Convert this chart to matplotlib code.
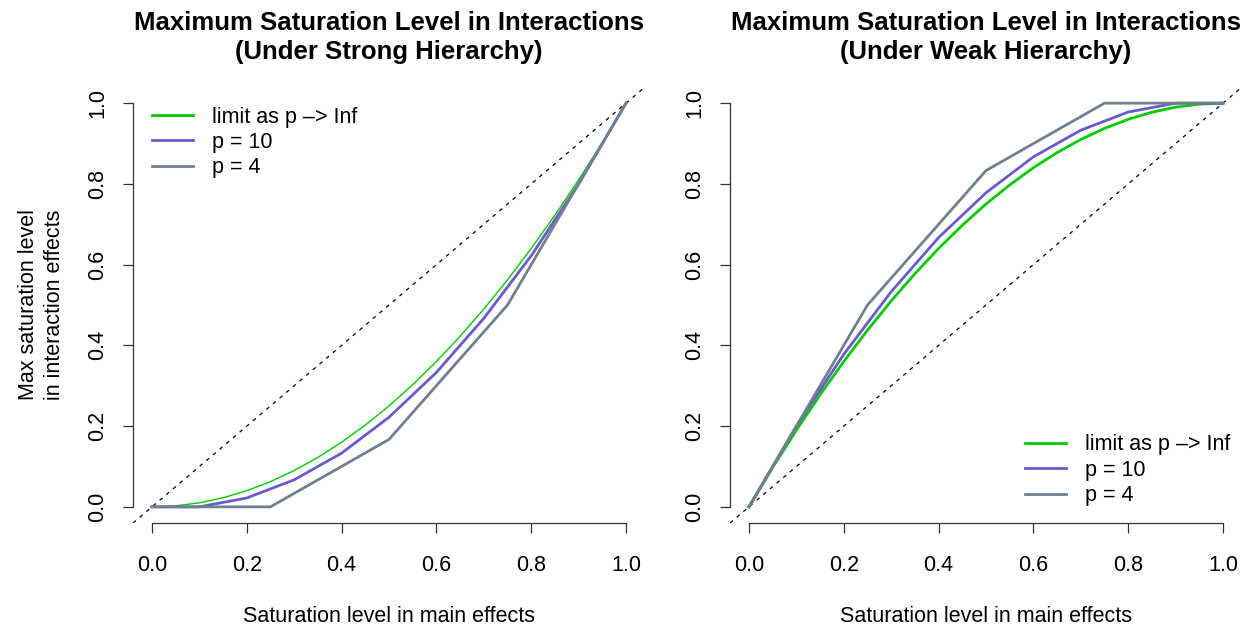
import matplotlib.pyplot as plt

plt.rcParams["font.family"] = ["Liberation Sans", "DejaVu Sans"]

# data
x_limit = [0.0, 0.05, 0.1, 0.15, 0.2, 0.25, 0.3, 0.35, 0.4, 0.45, 0.5,
           0.55, 0.6, 0.65, 0.7, 0.75, 0.8, 0.85, 0.9, 0.95, 1.0]
strong_limit = [0.0, 0.0025, 0.01, 0.0225, 0.04, 0.0625, 0.09, 0.1225, 0.16, 0.2025, 0.25,
                0.3025, 0.36, 0.4225, 0.49, 0.5625, 0.64, 0.7225, 0.81, 0.9025, 1.0]
weak_limit = [0.0, 0.0975, 0.19, 0.2775, 0.36, 0.4375, 0.51, 0.5775, 0.64, 0.6975, 0.75,
              0.7975, 0.84, 0.8775, 0.91, 0.9375, 0.96, 0.9775, 0.99, 0.9975, 1.0]

x_p10 = [0.0, 0.1, 0.2, 0.3, 0.4, 0.5, 0.6, 0.7, 0.8, 0.9, 1.0]
strong_p10 = [0.0, 0.0, 0.022, 0.067, 0.133, 0.222, 0.333, 0.467, 0.622, 0.8, 1.0]
weak_p10 = [0.0, 0.2, 0.378, 0.533, 0.667, 0.778, 0.867, 0.933, 0.978, 1.0, 1.0]

x_p4 = [0.0, 0.25, 0.5, 0.75, 1.0]
strong_p4 = [0.0, 0.0, 0.167, 0.5, 1.0]
weak_p4 = [0.0, 0.5, 0.833, 1.0, 1.0]

ticks = [0.0, 0.2, 0.4, 0.6, 0.8, 1.0]
tick_labels = ["0.0", "0.2", "0.4", "0.6", "0.8", "1.0"]
legend_labels = ["limit as p \u2013> Inf", "p = 10", "p = 4"]

GREEN = "#00CD00"
PURPLE = "#6A5ACD"
GREY = "#708090"
FS = 15.5

fig = plt.figure(figsize=(12.52, 6.3), dpi=100)
ax1 = fig.add_axes([133 / 1252, 107 / 630, 512 / 1252, 436 / 630])
ax2 = fig.add_axes([730 / 1252, 107 / 630, 512 / 1252, 436 / 630])


def style_axes(ax, title):
    ax.set_xlim(-0.04, 1.04)
    ax.set_ylim(-0.04, 1.04)
    for s in ["top", "right"]:
        ax.spines[s].set_visible(False)
    ax.spines["left"].set_bounds(0, 1)
    ax.spines["bottom"].set_bounds(0, 1)
    for s in ["left", "bottom"]:
        ax.spines[s].set_linewidth(0.9)
        ax.spines[s].set_color("#333333")
    ax.set_xticks(ticks)
    ax.set_xticklabels(tick_labels)
    ax.set_yticks(ticks)
    ax.set_yticklabels(tick_labels, rotation=90, va="center")
    ax.tick_params(axis="both", direction="out", length=7, width=0.9,
                   color="#333333", labelsize=FS)
    ax.tick_params(axis="x", pad=16)
    ax.tick_params(axis="y", pad=11)
    ax.set_xlabel("Saturation level in main effects", fontsize=FS, labelpad=22)
    ax.set_title(title, fontsize=18.5, fontweight="bold", pad=20, linespacing=1.3)
    # reference diagonal across the whole plot region
    ax.plot([-0.04, 1.04], [-0.04, 1.04], color="black", lw=0.9,
            linestyle=(0, (3, 4)), zorder=1)


legend_kw = dict(frameon=False, fontsize=FS, handlelength=1.9,
                 handletextpad=0.9, labelspacing=0.2, borderaxespad=0.0)

# strong hierarchy
ax1.plot(x_limit, strong_limit, color=GREEN, lw=1.0, label=legend_labels[0])
ax1.plot(x_p10, strong_p10, color=PURPLE, lw=2.0, label=legend_labels[1])
ax1.plot(x_p4, strong_p4, color=GREY, lw=2.0, label=legend_labels[2])
style_axes(ax1, "Maximum Saturation Level in Interactions\n(Under Strong Hierarchy)")
ax1.set_ylabel("Max saturation level\nin interaction effects", fontsize=FS,
               labelpad=16, linespacing=1.3)
leg1 = ax1.legend(loc="upper left", bbox_to_anchor=(0.02, 0.975), **legend_kw)
for line in leg1.get_lines():
    line.set_linewidth(2.0)

# weak hierarchy
ax2.plot(x_limit, weak_limit, color=GREEN, lw=2.0, label=legend_labels[0])
ax2.plot(x_p10, weak_p10, color=PURPLE, lw=2.0, label=legend_labels[1])
ax2.plot(x_p4, weak_p4, color=GREY, lw=2.0, label=legend_labels[2])
style_axes(ax2, "Maximum Saturation Level in Interactions\n(Under Weak Hierarchy)")
ax2.legend(loc="lower right", bbox_to_anchor=(0.995, 0.019), **legend_kw)

fig.savefig("out.png", dpi=100)
